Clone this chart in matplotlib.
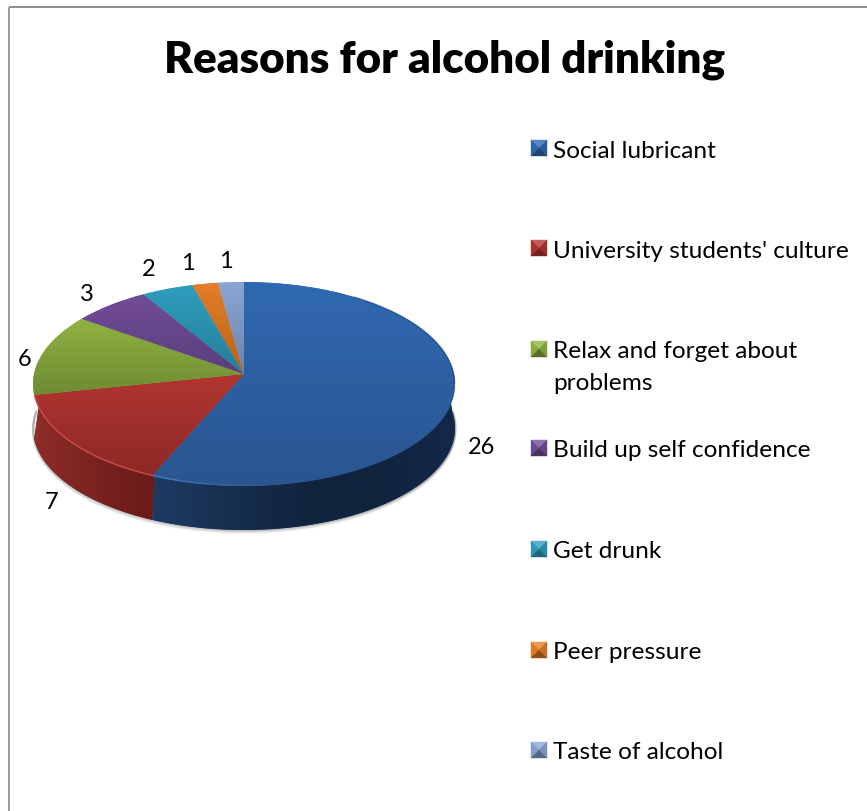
import numpy as np
import matplotlib
matplotlib.use("Agg")
import matplotlib.pyplot as plt
from matplotlib.colors import LinearSegmentedColormap, to_rgb
from matplotlib.transforms import Transform

# Survey answers
categories = ["Social lubricant", "University students' culture",
              "Relax and forget about\nproblems", "Build up self confidence",
              "Get drunk", "Peer pressure", "Taste of alcohol"]
counts = [26, 7, 6, 3, 2, 1, 1]
title = "Reasons for alcohol drinking"

# Layout, in figure pixels
W, H = 867, 812
APEX = (244.0, 375.0)
RADIUS_X, RADIUS_Y, TILT = 210.0, 101.0, 0.098
DEPTH = 44.0
label_xy = [(482, 448), (52, 503), (25, 360), (87, 295), (149, 270), (188, 264), (226, 262)]
legend_y = [149, 249, 350, 449, 550, 651, 751]

# Slice styling: face gradient (top, bottom) and wall tones
face_top = ["#3069B2", "#B23531", "#8FB341", "#714D98", "#2F9DBE", "#E67E26", "#8BA6D4"]
face_bot = ["#2A558F", "#8C2926", "#6E8B33", "#5B3D7B", "#24809A", "#B5631C", "#6C84AB"]
wall_stops = {0: ["#1D3C63", "#172F50", "#11243E", "#11243E", "#13294A"],
              1: ["#6A1B19", "#7A2320", "#8E2C28"]}


class TiltedDisc(Transform):
    """Projects the unit disc onto the tilted pie plane, in pixels."""
    input_dims = output_dims = 2
    is_separable = False
    has_inverse = False

    def transform_non_affine(self, values):
        values = np.asarray(values, dtype=float)
        u, v = values[:, 0], values[:, 1]
        w = 1 + TILT * v
        return np.column_stack([APEX[0] + RADIUS_X * u / w, APEX[1] - RADIUS_Y * v / w])


fig = plt.figure(figsize=(W / 100, H / 100), dpi=100, facecolor="white")
ax = fig.add_axes([0, 0, 1, 1])

wedges, _ = ax.pie(counts, startangle=90, counterclock=False, radius=1.0)

ax.set_aspect("auto")
ax.axis("off")


def reset_limits():
    ax.set_xlim(0, W)
    ax.set_ylim(H, 0)


reset_limits()
disc = TiltedDisc()


def rim(t1, t2, n=200):
    t = np.radians(np.linspace(t1, t2, n))
    return disc.transform(np.column_stack([np.cos(t), np.sin(t)]))


# Chart frame: only the top and left edges fall inside the canvas
ax.plot([8.7, W], [7.7, 7.7], color="#8A8A8A", lw=1.4, solid_capstyle="butt", zorder=1)
ax.plot([8.7, 8.7], [7.7, H], color="#9C9C9C", lw=1.4, solid_capstyle="butt", zorder=1)

# Slice angles from the counts, clockwise from twelve o'clock
angle = 90.0
total = sum(counts)
spans = []
for c in counts:
    spans.append((angle - 360.0 * c / total, angle))
    angle -= 360.0 * c / total

front_lo, front_hi = 176.0, 364.0


def clip_span(a, b):
    """Portion of a slice's arc (degrees, any turn) lying on the front."""
    for k in (0, 360):
        lo, hi = max(a + k, front_lo), min(b + k, front_hi)
        if hi > lo:
            yield lo, hi


# Soft shadow under the wall
lower = rim(front_lo, front_hi) + [0, DEPTH]
for off, alpha in ((3.0, 0.06), (2.0, 0.10), (1.0, 0.16)):
    ax.plot(lower[:, 0], lower[:, 1] + off, color="#555555", lw=1.6, alpha=alpha, zorder=2)
    ax.plot(lower[:, 0] + off * 0.4, lower[:, 1], color="#555555", lw=1.4, alpha=alpha, zorder=2)

# Front wall of the slices that reach the front half
centre = np.array(APEX)
for i, (a, b) in enumerate(spans):
    if i not in wall_stops:
        continue
    for lo, hi in clip_span(a, b):
        top = rim(lo, hi)
        bot = top + [0, DEPTH]
        # Upper border runs just inside the rim, hidden by the face drawn on top
        inner = centre + (top - centre) * 0.97
        verts = np.vstack([inner, bot[::-1]])
        poly = ax.fill(verts[:, 0], verts[:, 1], color=wall_stops[i][0], lw=0, zorder=3)[0]
        cmap = LinearSegmentedColormap.from_list("w", wall_stops[i])
        x0, x1 = verts[:, 0].min(), verts[:, 0].max()
        y0, y1 = verts[:, 1].min(), verts[:, 1].max()
        grad = np.linspace(0, 1, 256)[None, :]
        if i == 1:
            grad = grad[:, ::-1]
        im = ax.imshow(grad, extent=(x0, x1, y1, y0), aspect="auto", cmap=cmap,
                       interpolation="bilinear", zorder=3.1)
        im.set_clip_path(poly)

# Top faces
for i, w in enumerate(wedges):
    w.set_transform(disc + ax.transData)
    w.set_facecolor(face_top[i])
    w.set_edgecolor("none")
    w.set_zorder(4)
    pts = disc.transform(w.get_path().vertices)
    x0, x1, y0, y1 = pts[:, 0].min(), pts[:, 0].max(), pts[:, 1].min(), pts[:, 1].max()
    cmap = LinearSegmentedColormap.from_list("f", [face_top[i], face_bot[i]])
    im = ax.imshow(np.linspace(0, 1, 256)[:, None], extent=(x0, x1, y1, y0), aspect="auto",
                   cmap=cmap, interpolation="bilinear", zorder=4.1)
    im.set_clip_path(w)

reset_limits()

# Bright bevel along the front edge of the face, fading out across the large slice
for lo, hi in clip_span(*spans[1]):
    edge = rim(lo, hi)
    ax.plot(edge[:, 0], edge[:, 1] - 0.5, color="#DE5A54", lw=1.1, alpha=0.65, zorder=5,
            solid_capstyle="butt")
for lo, hi in clip_span(*spans[0]):
    edge = rim(lo, hi)
    for k, alpha in enumerate((0.6, 0.42, 0.26, 0.12)):
        part = edge[k * 12: (k + 1) * 12 + 1]
        ax.plot(part[:, 0], part[:, 1] - 0.5, color="#5C8CCB", lw=1.1, alpha=alpha, zorder=5,
                solid_capstyle="butt")

# Darker soft edge on the right of the large face
back = rim(-5, 55)
ax.plot(back[:, 0] - 0.5, back[:, 1], color="#1F3F6B", lw=1.3, alpha=0.4, zorder=5)

# Value labels
for value, (x, y) in zip(counts, label_xy):
    ax.text(x, y, str(value), ha="center", va="center", fontsize=17, family="Lato",
            color="black", zorder=6)

ax.text(444.5, 60, title, ha="center", va="center", fontsize=31.7, fontweight="heavy",
        family="Lato", color="black", zorder=6)

# Legend: bevelled key plus label
KEY = 16.0
for i, (name, y) in enumerate(zip(categories, legend_y)):
    x0, x1, y0, y1 = 531.0, 531.0 + KEY, y - KEY / 2, y + KEY / 2
    xc, yc = (x0 + x1) / 2, (y0 + y1) / 2
    base = np.array(to_rgb(face_top[i]))
    dark = np.array(to_rgb(face_bot[i]))
    tones = [base * 0.8 + 0.2, base * 0.96, base * 0.88, dark * 0.8]
    tris = [[(x0, y0), (x1, y0), (xc, yc)], [(x0, y0), (x0, y1), (xc, yc)],
            [(x1, y0), (x1, y1), (xc, yc)], [(x0, y1), (x1, y1), (xc, yc)]]
    for tri, tone in zip(tris, tones):
        ax.add_patch(plt.Polygon(tri, closed=True, fc=tone, ec=tone, lw=0.3, zorder=6))
    ax.text(553, y - 8.5, name, ha="left", va="top", fontsize=17.6, family="Lato",
            color="black", linespacing=1.62, zorder=6)

fig.savefig("out.png", dpi=100)
